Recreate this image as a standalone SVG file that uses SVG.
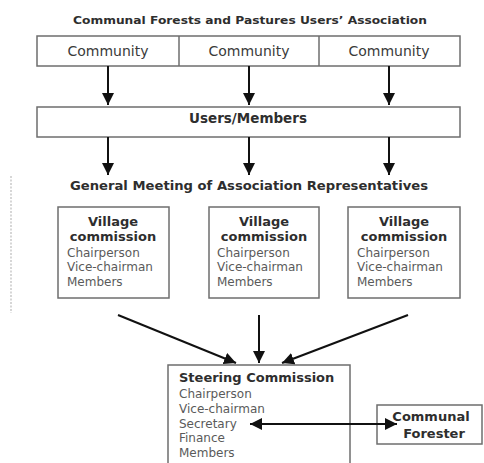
<svg xmlns="http://www.w3.org/2000/svg" width="484" height="463" viewBox="0 0 484 463">
<style>
  .box{fill:#fff;stroke:#6e6e6e;stroke-width:1.5}
  .t{font-family:"DejaVu Sans",Verdana,sans-serif;fill:#3a3a3a}
  .b{font-weight:bold;fill:#2e2e2e}
  .r{font-size:12px;fill:#5a5a5a}
  .c{text-anchor:middle}
  .ln{stroke:#111;stroke-width:2;fill:none}
</style>
<defs>
  <marker id="ah" viewBox="0 0 10 10" refX="10" refY="5" markerWidth="6" markerHeight="6" orient="auto-start-reverse" markerUnits="strokeWidth">
    <path d="M0,0 L10,5 L0,10 z" fill="#111"/>
  </marker>
</defs>
<rect width="484" height="463" fill="#fff"/>
<line x1="11" y1="176" x2="11" y2="313" stroke="#bbb" stroke-width="1.2" stroke-dasharray="2,1.5"/>

<text id="title" class="t b c" x="250" y="24" font-size="11" textLength="354" lengthAdjust="spacingAndGlyphs">Communal Forests and Pastures Users’ Association</text>

<g id="community-row">
  <rect class="box" x="37" y="36" width="423" height="30"/>
  <line x1="179" y1="36" x2="179" y2="66" stroke="#6e6e6e" stroke-width="1.5"/>
  <line x1="319" y1="36" x2="319" y2="66" stroke="#6e6e6e" stroke-width="1.5"/>
</g>
<g id="community1"><text class="t c" x="108" y="56" font-size="14">Community</text></g>
<g id="community2"><text class="t c" x="249" y="56" font-size="14">Community</text></g>
<g id="community3"><text class="t c" x="389" y="56" font-size="14">Community</text></g>

<g id="users">
  <rect class="box" x="37" y="107" width="423" height="30"/>
  <text class="t b c" x="248" y="123" font-size="13.5">Users/Members</text>
</g>

<g id="general-meeting">
  <text class="t b c" x="249" y="190" font-size="12" textLength="358" lengthAdjust="spacingAndGlyphs">General Meeting of Association Representatives</text>
</g>

<g id="village1">
  <rect class="box" x="58" y="207" width="111" height="91"/>
  <text class="t b c" x="113" y="226" font-size="13">Village</text>
  <text class="t b c" x="113" y="241" font-size="13">commission</text>
  <text class="t r" x="67" y="257">Chairperson</text>
  <text class="t r" x="67" y="271">Vice-chairman</text>
  <text class="t r" x="67" y="286">Members</text>
</g>
<g id="village2">
  <rect class="box" x="209" y="207" width="110" height="91"/>
  <text class="t b c" x="264" y="226" font-size="13">Village</text>
  <text class="t b c" x="264" y="241" font-size="13">commission</text>
  <text class="t r" x="217" y="257">Chairperson</text>
  <text class="t r" x="217" y="271">Vice-chairman</text>
  <text class="t r" x="217" y="286">Members</text>
</g>
<g id="village3">
  <rect class="box" x="348" y="207" width="112" height="91"/>
  <text class="t b c" x="404" y="226" font-size="13">Village</text>
  <text class="t b c" x="404" y="241" font-size="13">commission</text>
  <text class="t r" x="357" y="257">Chairperson</text>
  <text class="t r" x="357" y="271">Vice-chairman</text>
  <text class="t r" x="357" y="286">Members</text>
</g>

<g id="steering">
  <rect class="box" x="168" y="365" width="182" height="110"/>
  <text class="t b" x="179" y="382" font-size="13">Steering Commission</text>
  <text class="t r" x="179" y="398">Chairperson</text>
  <text class="t r" x="179" y="413">Vice-chairman</text>
  <text class="t r" x="179" y="428">Secretary</text>
  <text class="t r" x="179" y="442">Finance</text>
  <text class="t r" x="179" y="457">Members</text>
</g>

<g id="forester">
  <rect class="box" x="377" y="405" width="105" height="39"/>
  <text class="t b c" x="431" y="421" font-size="13">Communal</text>
  <text class="t b c" x="434" y="438" font-size="13">Forester</text>
</g>

<g id="connectors">
  <line class="ln" x1="108" y1="66" x2="108" y2="105" marker-end="url(#ah)"/>
  <line class="ln" x1="249" y1="66" x2="249" y2="105" marker-end="url(#ah)"/>
  <line class="ln" x1="389" y1="66" x2="389" y2="105" marker-end="url(#ah)"/>
  <line class="ln" x1="108" y1="137" x2="108" y2="175" marker-end="url(#ah)"/>
  <line class="ln" x1="249" y1="137" x2="249" y2="175" marker-end="url(#ah)"/>
  <line class="ln" x1="389" y1="137" x2="389" y2="175" marker-end="url(#ah)"/>
  <line class="ln" x1="118" y1="315" x2="236" y2="363" marker-end="url(#ah)"/>
  <line class="ln" x1="259" y1="315" x2="259" y2="363" marker-end="url(#ah)"/>
  <line class="ln" x1="408" y1="315" x2="282" y2="363" marker-end="url(#ah)"/>
  <line class="ln" x1="250" y1="424" x2="397" y2="424" marker-start="url(#ah)" marker-end="url(#ah)"/>
</g>
</svg>
